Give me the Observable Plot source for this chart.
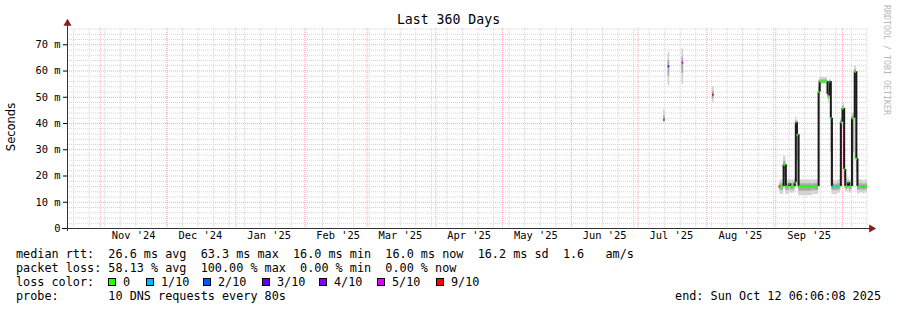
<!DOCTYPE html>
<html><head><meta charset="utf-8">
<script src="https://cdn.jsdelivr.net/npm/d3@7"></script>
<script src="https://cdn.jsdelivr.net/npm/@observablehq/plot@0.6"></script>
<style>
body{margin:0;background:#fff;}
#wrap{position:relative;width:897px;height:310px;overflow:hidden;background:#fff;font-family:"DejaVu Sans Mono",monospace;color:#000;}
#wrap svg{position:absolute;left:0;top:0;}
.abs{position:absolute;white-space:pre;}
.leg{font-size:11.8px;line-height:14px;height:14px;}
.box{position:absolute;width:6px;height:6px;border:1px solid #000;}
</style></head><body><div id="wrap"></div>
<script>
// ---- data ----
const rangeStart = "2024-10-17T06:06:08Z";
const rangeEnd = "2025-10-12T06:06:08Z";
const yMax = 76.2;
const yTicks = [0, 10, 20, 30, 40, 50, 60, 70];
const monthLabels = ["Nov '24","Dec '24","Jan '25","Feb '25","Mar '25","Apr '25","May '25","Jun '25","Jul '25","Aug '25","Sep '25"];
const monthLabelDates = ["2024-11-16","2024-12-16","2025-01-16","2025-02-16","2025-03-16","2025-04-16","2025-05-16","2025-06-16","2025-07-16","2025-08-16","2025-09-16"];
const lossLevels = [0, 1, 2, 3, 4, 5, 9];
const lossLabels = ["0","1/10","2/10","3/10","4/10","5/10","9/10"];
const lossColors = ["#26ff00","#00b8ff","#0059ff","#5e00ff","#7e00ff","#dd00ff","#ff0000"];

const segStart = ["2025-07-12T12","2025-07-14T12","2025-07-20T18","2025-08-03T12",
"2025-09-02T12","2025-09-03T00","2025-09-04T12","2025-09-05T12","2025-09-07T00","2025-09-07T12","2025-09-09T12","2025-09-10T00","2025-09-10T12","2025-09-11T06",
"2025-09-17T06","2025-09-17T18","2025-09-20T06","2025-09-20T18","2025-09-24T06","2025-09-24T18","2025-09-25T06","2025-09-25T18","2025-09-26T06","2025-09-27T12",
"2025-09-28T06","2025-09-28T18","2025-09-30T06","2025-10-01T00","2025-10-01T18","2025-10-02T06","2025-10-03T12","2025-10-04T00","2025-10-05T06","2025-10-06T12",
"2025-10-07T06","2025-10-07T18","2025-10-08T12","2025-10-10T12","2025-10-11T00"];
const segEnd = ["2025-07-13T06","2025-07-15T06","2025-07-21T12","2025-08-04T06",
"2025-09-03T00","2025-09-04T12","2025-09-05T12","2025-09-07T00","2025-09-07T12","2025-09-09T12","2025-09-10T00","2025-09-10T12","2025-09-11T06","2025-09-17T06",
"2025-09-17T18","2025-09-20T06","2025-09-20T18","2025-09-24T06","2025-09-24T18","2025-09-25T06","2025-09-25T18","2025-09-26T06","2025-09-27T12","2025-09-28T06",
"2025-09-28T18","2025-09-30T06","2025-10-01T00","2025-10-01T18","2025-10-02T06","2025-10-03T12","2025-10-04T00","2025-10-05T06","2025-10-06T12","2025-10-07T06",
"2025-10-07T18","2025-10-08T12","2025-10-10T12","2025-10-11T00","2025-10-12T06"];
// median rtt (ms)
const median = [41.4, 61.8, 63.2, 51,
16,16,24.3,16,17,16,17.5,40.4,35.7,16,
16,16,52,56,51,50.5,56,42,16,16,
16,16,40.5,45.7,22.5,16,17.5,16,42,59.7,
26.6,16,16,16,16];
// lost pings out of 10
const loss = [5,3,5,9,
9,0,0,0,0,0,0,0,0,0,
1,0,0,0,0,0,1,1,1,0,
1,0,0,0,0,0,0,0,0,0,
0,1,0,1,0];
const smokeLo = [40.3,54.4,55,48,
14,13,15,13,14,13.5,14,16,16,12.5,
12.5,13,16,55,49,48,50,16,13,13,
13,13.5,16,38,16,14,14,13.5,16,26,
16,13,13.5,13,13.5];
const smokeHi = [45.2,67.2,68.3,54,
17.5,18.5,27.5,18.5,19,18.5,19,42.5,41,18.5,
18.5,18.5,56.5,57.5,56.5,56,57,56,18.5,18,
18,18.5,42,48,46,19,19.5,18.5,44,62,
58,18.5,18.5,18,18.5];

const legendRows = [
  "median rtt:  26.6 ms avg  63.3 ms max  16.0 ms min  16.0 ms now  16.2 ms sd  1.6   am/s",
  "packet loss: 58.13 % avg  100.00 % max  0.00 % min  0.00 % now"
];
const probeText = "probe:       10 DNS requests every 80s";
const endText = "end: Sun Oct 12 06:06:08 2025";

// ---- build ----
const x0 = new Date(rangeStart), x1 = new Date(rangeEnd);
const segs = segStart.map((s, i) => ({
  start: new Date(s + ":00Z"), end: new Date(segEnd[i] + ":00Z"),
  med: median[i], loss: loss[i], lo: smokeLo[i], hi: smokeHi[i]
}));
const lossColor = new Map(lossLevels.map((l, i) => [l, lossColors[i]]));
const links = [];
for (let i = 0; i < segs.length - 1; i++)
  if (+segs[i].end === +segs[i + 1].start)
    links.push({t: segs[i + 1].start, a: segs[i].med, b: segs[i + 1].med});
const weeks = d3.utcSunday.range(x0, x1);
const months = d3.utcMonth.range(d3.utcMonth.ceil(x0), x1);
const minorY = d3.range(2, yMax, 2).filter(v => v % 10 !== 0);
const majorY = yTicks.filter(v => v > 0);
const labels = monthLabels.map((t, i) => ({t, d: new Date(monthLabelDates[i] + "T00:00Z")}));
const mono = "DejaVu Sans Mono";
const gridGray = "#d4d4d4", gridRed = "#f4adad", dash = "1,1";

const chart = Plot.plot({
  width: 897, height: 245,
  marginLeft: 67, marginRight: 30, marginTop: 28, marginBottom: 17,
  x: {type: "utc", domain: [x0, x1], axis: null},
  y: {domain: [0, yMax], label: null},
  style: {color: "#000", background: "transparent", overflow: "visible"},
  marks: [
    Plot.ruleY(minorY, {stroke: gridGray, strokeDasharray: dash}),
    Plot.ruleX(weeks, {stroke: gridGray, strokeDasharray: dash}),
    Plot.ruleY(majorY, {stroke: gridRed, strokeDasharray: dash}),
    Plot.ruleX(months, {stroke: gridRed, strokeDasharray: dash}),
    Plot.rect(segs, {x1: "start", x2: "end", y1: "lo", y2: "hi", fill: "#d2d2d2"}),
    Plot.rect(segs, {x1: "start", x2: "end", y1: d => d.med - (d.med - d.lo) * 0.5, y2: d => d.med + (d.hi - d.med) * 0.4, fill: "#a8a8a8"}),
    Plot.ruleX(links, {x: "t", y1: "a", y2: "b", stroke: "#1a1a1a", strokeWidth: 2}),
    Plot.ruleY(segs, {y: "med", x1: "start", x2: "end", stroke: d => lossColor.get(d.loss), strokeWidth: 2}),
    Plot.ruleX([x0], {stroke: "#333", insetTop: -6, insetBottom: -3}),
    Plot.ruleY([0], {stroke: "#333", insetLeft: -5, insetRight: -3}),
    Plot.dot([0], {x: () => x0, y: () => yMax, symbol: "triangle", r: 3, fill: "#8b1c1c", dy: -5}),
    Plot.dot([0], {x: () => x1, y: () => 0, symbol: "triangle", r: 3, fill: "#8b1c1c", dx: 4, rotate: 90}),
    Plot.axisY({ticks: yTicks, tickSize: 4, tickPadding: 3, label: null,
      tickFormat: d => d === 0 ? "0" : d + " m", fontSize: 10.4, fontFamily: mono}),
    Plot.text(labels, {x: "d", text: "t", frameAnchor: "bottom", dy: 10, fontSize: 10.4, fontFamily: mono})
  ]
});

const wrap = document.getElementById("wrap");
wrap.appendChild(chart);

function addDiv(text, css, cls) {
  const el = document.createElement("div");
  el.className = "abs " + (cls || "");
  el.textContent = text;
  Object.assign(el.style, css);
  wrap.appendChild(el);
  return el;
}
addDiv("Last 360 Days", {left: "0px", top: "13px", width: "897px", textAlign: "center", fontSize: "13.2px", lineHeight: "14px"});
addDiv("Seconds", {left: "-39px", top: "120px", width: "100px", height: "14px", lineHeight: "14px", textAlign: "center",
  fontFamily: "'DejaVu Sans', sans-serif", fontSize: "11.5px", transform: "rotate(-90deg)"});
addDiv("RRDTOOL / TOBI OETIKER", {left: "892px", top: "5px", fontSize: "8.3px", lineHeight: "10px", color: "#b8b8b8",
  transform: "rotate(90deg)", transformOrigin: "0 0"});

const rowTops = [247, 261, 275, 289];
legendRows.forEach((t, i) => addDiv(t, {left: "16px", top: rowTops[i] + "px"}, "leg"));
addDiv("loss color:", {left: "16px", top: rowTops[2] + "px"}, "leg");
const boxX = [108, 146, 203, 262, 319, 377, 436];
lossLabels.forEach((t, i) => {
  const b = document.createElement("div");
  b.className = "box";
  b.style.left = boxX[i] + "px";
  b.style.top = (rowTops[2] + 3) + "px";
  b.style.background = lossColors[i];
  wrap.appendChild(b);
  addDiv(t, {left: (boxX[i] + 15) + "px", top: rowTops[2] + "px"}, "leg");
});
addDiv(probeText, {left: "16px", top: rowTops[3] + "px"}, "leg");
addDiv(endText, {right: "16px", top: rowTops[3] + "px"}, "leg");
</script></body></html>
